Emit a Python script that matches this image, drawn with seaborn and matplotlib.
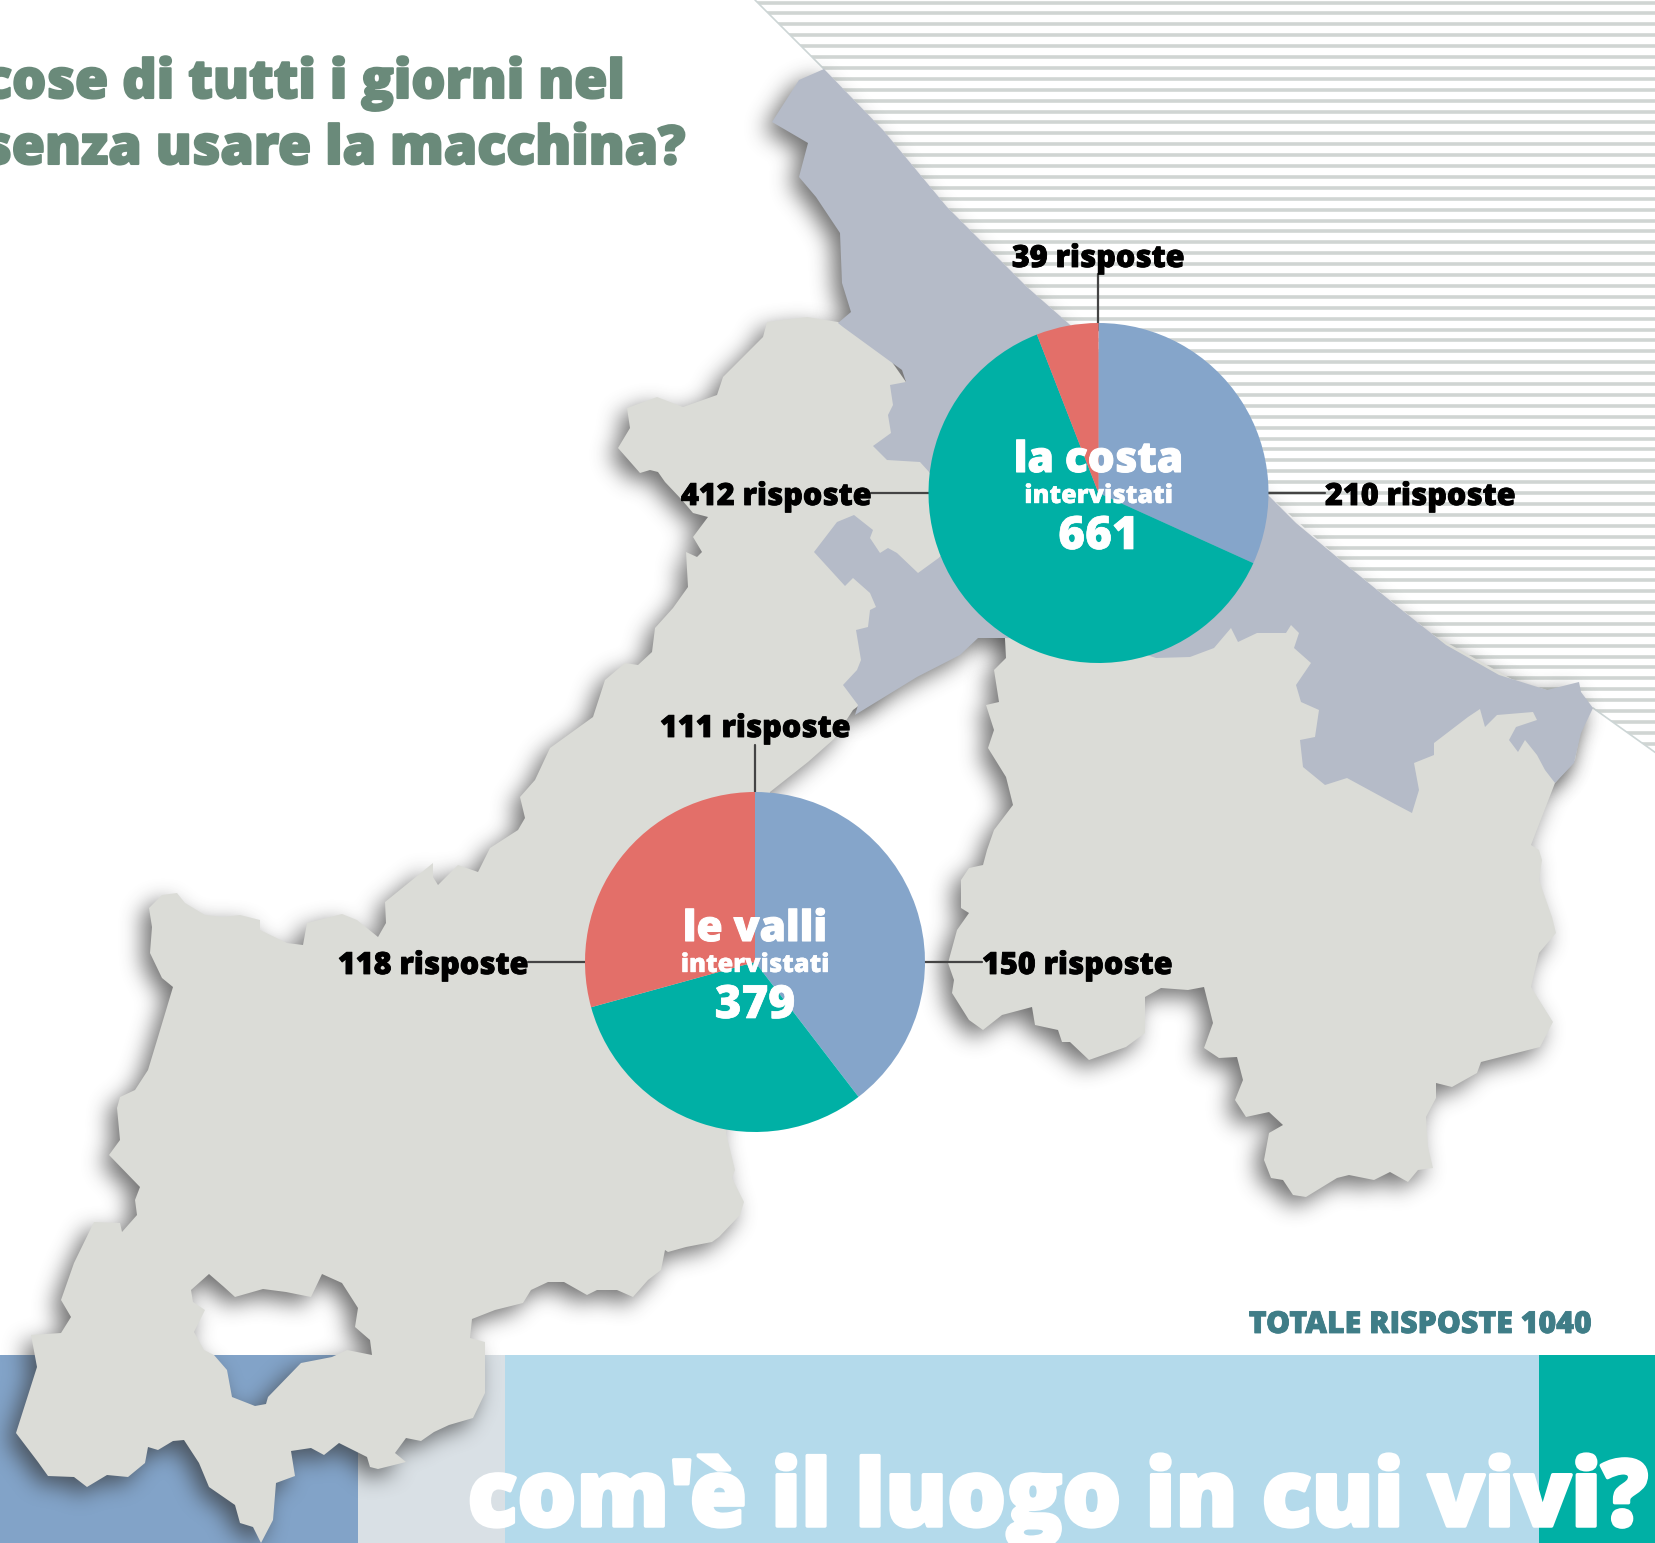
import numpy as np
import seaborn as sns
import matplotlib
matplotlib.use('Agg')
import matplotlib.pyplot as plt
import matplotlib.patheffects as pe
from matplotlib.patches import PathPatch, Polygon, Rectangle
from matplotlib.path import Path

W = 1656
H = 1543

# risposte per zona, in senso orario da ore 12
slice_names = ['blu', 'verde', 'rosso']
costa_values = [210, 412, 39]
valli_values = [150, 118, 111]
costa_total = 661
valli_total = 379
total_answers = 1040

pie_colors = sns.color_palette(['#85a5ca', '#00b0a5', '#e36f69'])
map_grey = '#dbdcd7'
coast_grey = '#b5bbc8'
title_green = '#6a8a7a'

title_lines = ['cose di tutti i giorni nel', 'senza usare la macchina?']
footer = "com'è il luogo in cui vivi?"

# sagome della mappa, in pixel
coast_shape = [(824,69),(883,130),(947,207),(1027,287),(1068,323),(1150,400),(1270,497),(1296,523),(1344,563),
    (1398,607),(1446,645),(1499,675),(1547,690),(1579,682),(1581,692),(1593,708),(1581,733),(1574,763),(1555,783),
    (1545,770),(1537,755),(1525,740),(1518,752),(1509,740),(1516,727),(1537,720),(1533,712),(1497,715),(1485,727),
    (1480,709),(1468,717),(1434,743),(1434,755),(1414,763),(1419,790),(1412,813),(1393,803),(1347,778),(1325,785),
    (1303,767),(1300,740),(1315,737),(1319,710),(1301,702),(1296,685),(1311,663),(1294,648),(1299,633),(1291,625),
    (1286,633),(1257,633),(1238,642),(1231,628),(1214,648),(1190,657),(1156,658),(1100,640),(1003,638),(978,638),
    (960,655),(917,677),(855,715),(858,705),(843,685),(857,670),(861,660),(856,630),(868,627),(870,610),(876,607),
    (870,593),(853,578),(845,586),(814,552),(837,522),(854,515),(873,530),(870,538),(880,553),(888,548),(897,553),
    (918,573),(940,557),(1000,500),(930,473),(920,462),(887,460),(873,446),(891,433),(888,415),(893,405),(890,385),
    (906,382),(902,370),(843,327),(838,323),(851,312),(842,283),(840,233),(816,197),(799,177),(808,143),(772,122),(799,80)]

valley_shape = [(767,322),(807,317),(838,322),(880,345),(906,382),(930,473),(1000,500),(940,557),(900,640),(880,690),
    (853,710),(834,739),(808,762),(770,792),(760,960),(726,1133),(735,1170),(732,1178),(744,1202),(740,1215),(719,1237),
    (712,1242),(686,1247),(668,1252),(665,1250),(661,1270),(648,1280),(633,1297),(617,1290),(597,1290),(587,1295),
    (564,1282),(548,1282),(531,1290),(523,1303),(495,1310),(472,1319),(470,1338),(485,1342),(485,1393),(473,1418),
    (449,1425),(434,1432),(421,1441),(406,1438),(395,1453),(406,1462),(378,1469),(370,1467),(367,1457),(339,1443),
    (324,1455),(311,1448),(291,1451),(295,1476),(276,1483),(273,1520),(261,1543),(253,1527),(240,1523),(235,1505),
    (209,1487),(199,1463),(184,1440),(173,1441),(158,1450),(148,1447),(145,1463),(128,1477),(107,1475),(87,1487),
    (74,1477),(48,1476),(38,1462),(16,1433),(37,1367),(31,1335),(61,1333),(71,1317),(61,1300),(74,1263),(94,1222),
    (120,1223),(122,1232),(137,1215),(135,1200),(140,1187),(109,1155),(120,1140),(117,1108),(120,1097),(135,1090),
    (148,1070),(158,1037),(173,987),(162,978),(150,953),(152,927),(149,908),(162,895),(177,893),(185,903),(205,915),
    (223,917),(240,915),(260,920),(260,930),(287,943),(303,945),(307,923),(342,914),(357,920),(378,937),(386,923),
    (385,902),(433,863),(433,877),(438,885),(458,865),(478,872),(490,848),(518,830),(525,818),(520,797),(535,780),
    (550,748),(593,717),(605,680),(625,663),(638,665),(652,652),(655,628),
    (673,608),(688,587),(686,552),(697,557),(702,552),(693,537),(708,517),(693,513),(682,500),(665,482),(658,472),
    (650,470),(640,473),(618,448),(630,428),(627,408),(657,397),(683,407),(717,395),(723,377),(763,337)]

valley_hole = [(209,1274),(191,1290),(193,1302),(205,1310),(194,1332),(204,1350),(214,1355),(227,1370),(232,1397),
    (255,1406),(266,1404),(268,1397),(301,1363),(332,1357),(347,1350),(372,1355),(370,1340),(355,1327),(358,1308),
    (342,1283),(322,1274),(311,1297),(286,1292),(263,1289),(235,1297),(224,1287)]

inland_shape = [(1004,620),(1098,600),(1156,620),(1300,560),(1540,695),(1585,705),(1575,760),(1555,783),(1531,845),
    (1539,850),(1542,860),(1539,880),(1552,917),(1556,933),(1539,953),(1531,987),(1553,1022),(1540,1047),(1481,1062),
    (1477,1073),(1452,1087),(1436,1083),(1436,1098),(1426,1117),(1428,1147),(1433,1168),(1418,1170),(1408,1182),
    (1390,1172),(1374,1180),(1349,1175),(1337,1178),(1306,1197),(1293,1195),(1283,1180),(1271,1178),(1264,1160),
    (1269,1133),(1283,1125),(1269,1112),(1246,1117),(1235,1100),(1243,1080),(1237,1057),(1219,1058),(1204,1048),
    (1213,1023),(1204,987),(1188,990),(1161,988),(1145,997),(1145,1033),(1126,1047),(1089,1060),(1070,1042),(1062,1042),
    (1058,1030),(1035,1025),(1032,1007),(1002,1015),(983,1030),(969,1020),(952,993),(954,980),(948,963),(957,930),
    (969,913),(961,908),(961,880),(969,868),(983,865),(987,850),
    (994,830),(1013,805),(1006,777),(988,748),(994,730),(986,705),(999,702),(994,670),(1006,658)]

sea_shape = [(755,0),(824,69),(883,130),(947,207),(1027,287),(1068,323),(1150,400),(1270,497),(1344,563),(1446,645),
    (1499,675),(1547,690),(1593,708),(1656,753),(1656,0)]


def blur(img, dpi):
    # ombra sfumata: tre passate di box blur sull'alpha
    pad = 60
    a = np.pad(img, ((pad, pad), (pad, pad), (0, 0)))
    alpha = a[:, :, 3]
    kernel = np.ones(21) / 21
    for i in range(3):
        alpha = np.apply_along_axis(lambda m: np.convolve(m, kernel, mode='same'), 0, alpha)
        alpha = np.apply_along_axis(lambda m: np.convolve(m, kernel, mode='same'), 1, alpha)
    a[:, :, :3] = 0.2
    a[:, :, 3] = alpha * 0.7
    return a, -pad, -pad


def signed_area(p):
    x, y = p[:, 0], p[:, 1]
    return 0.5 * np.sum(x * np.roll(y, -1) - np.roll(x, -1) * y)


def make_path(shape, hole=None, dx=0, dy=0):
    pts = np.array(shape, dtype=float)
    pts = np.vstack([pts, pts[:1]])
    codes = [Path.MOVETO] + [Path.LINETO] * (len(pts) - 1)
    if hole is not None:
        h = np.array(hole, dtype=float)
        if np.sign(signed_area(h)) == np.sign(signed_area(pts)):
            h = h[::-1]
        h = np.vstack([h, h[:1]])
        pts = np.vstack([pts, h])
        codes = codes + [Path.MOVETO] + [Path.LINETO] * (len(h) - 1)
    return Path(pts + [dx, dy], codes)


sns.set_theme(style='white')
plt.rcParams['font.family'] = ['Open Sans', 'DejaVu Sans']

fig = plt.figure(figsize=(W / 100, H / 100), dpi=100, facecolor='white')
ax = fig.add_axes([0, 0, 1, 1])
ax.set_xlim(0, W)
ax.set_ylim(H, 0)
ax.axis('off')

# righe del mare
sea = Polygon(sea_shape, closed=True, facecolor='white', edgecolor='none', transform=ax.transData)
ax.add_patch(sea)
stripes = ax.hlines(np.arange(2.5, 760, 10.9), 700, W, color='#d0d5d3', linewidth=2.6, zorder=1)
stripes.set_clip_path(sea)
ax.plot([755, 824], [0, 69], color='#cdd6d6', lw=1.2, zorder=1)
ax.plot([1593, 1656], [708, 753], color='#cdd6d6', lw=1.2, zorder=1)

# fasce in basso
ax.add_patch(Rectangle((0, 1355), 358, 188, color='#82a3c8', lw=0, zorder=2))
ax.add_patch(Rectangle((358, 1355), 147, 188, color='#d9e0e5', lw=0, zorder=2))
ax.add_patch(Rectangle((505, 1355), 1034, 188, color='#b4daeb', lw=0, zorder=2))
ax.add_patch(Rectangle((1539, 1355), 117, 188, color='#00b0a5', lw=0, zorder=2))

# ombre, poi le sagome
for shape, hole in [(valley_shape, valley_hole), (inland_shape, None), (coast_shape, None)]:
    shadow = PathPatch(make_path(shape, hole, -8, 8), facecolor='black', edgecolor='none', zorder=3)
    shadow.set_agg_filter(blur)
    ax.add_patch(shadow)

ax.add_patch(PathPatch(make_path(valley_shape, valley_hole), facecolor=map_grey, edgecolor='none', zorder=4))
ax.add_patch(PathPatch(make_path(inland_shape), facecolor=map_grey, edgecolor='none', zorder=4))
ax.add_patch(PathPatch(make_path(coast_shape), facecolor=coast_grey, edgecolor='none', zorder=5))

# linee delle etichette
line_color = '#444444'
ax.plot([1098, 1098], [274, 330], color=line_color, lw=1.6, zorder=6)
ax.plot([871, 935], [493, 493], color=line_color, lw=1.6, zorder=6)
ax.plot([1262, 1325], [493, 493], color=line_color, lw=1.6, zorder=6)
ax.plot([755, 755], [745, 800], color=line_color, lw=1.6, zorder=6)
ax.plot([528, 590], [962, 962], color=line_color, lw=1.6, zorder=6)
ax.plot([920, 982], [962, 962], color=line_color, lw=1.6, zorder=6)


def draw_pie(values, cx, cy, r):
    pie_ax = fig.add_axes([(cx - r) / W, 1 - (cy + r) / H, 2 * r / W, 2 * r / H])
    pie_ax.pie(values, colors=pie_colors, startangle=90, counterclock=False, radius=1,
               wedgeprops={'linewidth': 0, 'edgecolor': 'none'})
    pie_ax.set_xlim(-1, 1)
    pie_ax.set_ylim(-1, 1)
    pie_ax.set_aspect('equal')
    sns.despine(ax=pie_ax, left=True, bottom=True)


draw_pie(costa_values, 1098.5, 493, 170)
draw_pie(valli_values, 755, 962, 170)

top = fig.add_axes([0, 0, 1, 1], facecolor='none')
top.set_xlim(0, W)
top.set_ylim(H, 0)
top.axis('off')


def heavy_text(x, y, s, size, color, ha, stroke):
    t = top.text(x, y, s, ha=ha, va='baseline', fontsize=size, color=color,
                 family=['Open Sans', 'DejaVu Sans'], weight=800)
    t.set_path_effects([pe.withStroke(linewidth=stroke, foreground=color)])
    return t


heavy_text(625, 98, title_lines[0], 38.7, title_green, 'right', 1.5)
heavy_text(686, 164, title_lines[1], 38.7, title_green, 'right', 1.5)
heavy_text(1648, 1526, footer, 66.7, 'white', 'right', 2.5)
heavy_text(1592, 1333, 'TOTALE RISPOSTE {0}'.format(total_answers), 21.8, '#3f7d87', 'right', 0.6)


def label(x, y, value, ha):
    heavy_text(x, y, '{0} risposte'.format(value), 22, 'black', ha, 0.6)


label(1098, 267, costa_values[2], 'center')
label(871, 505, costa_values[1], 'right')
label(1325, 505, costa_values[0], 'left')
label(755, 737, valli_values[2], 'center')
label(528, 974, valli_values[1], 'right')
label(982, 974, valli_values[0], 'left')


def centre_text(cx, cy, name, total):
    heavy_text(cx, cy - 21, name, 30.5, 'white', 'center', 0.8)
    heavy_text(cx, cy + 10, 'intervistati', 18.2, 'white', 'center', 0.3)
    heavy_text(cx, cy + 56, str(total), 33, 'white', 'center', 0.5)


centre_text(1098.5, 493, 'la costa', costa_total)
centre_text(755, 962, 'le valli', valli_total)

fig.savefig('out.png', dpi=100, facecolor='white')
